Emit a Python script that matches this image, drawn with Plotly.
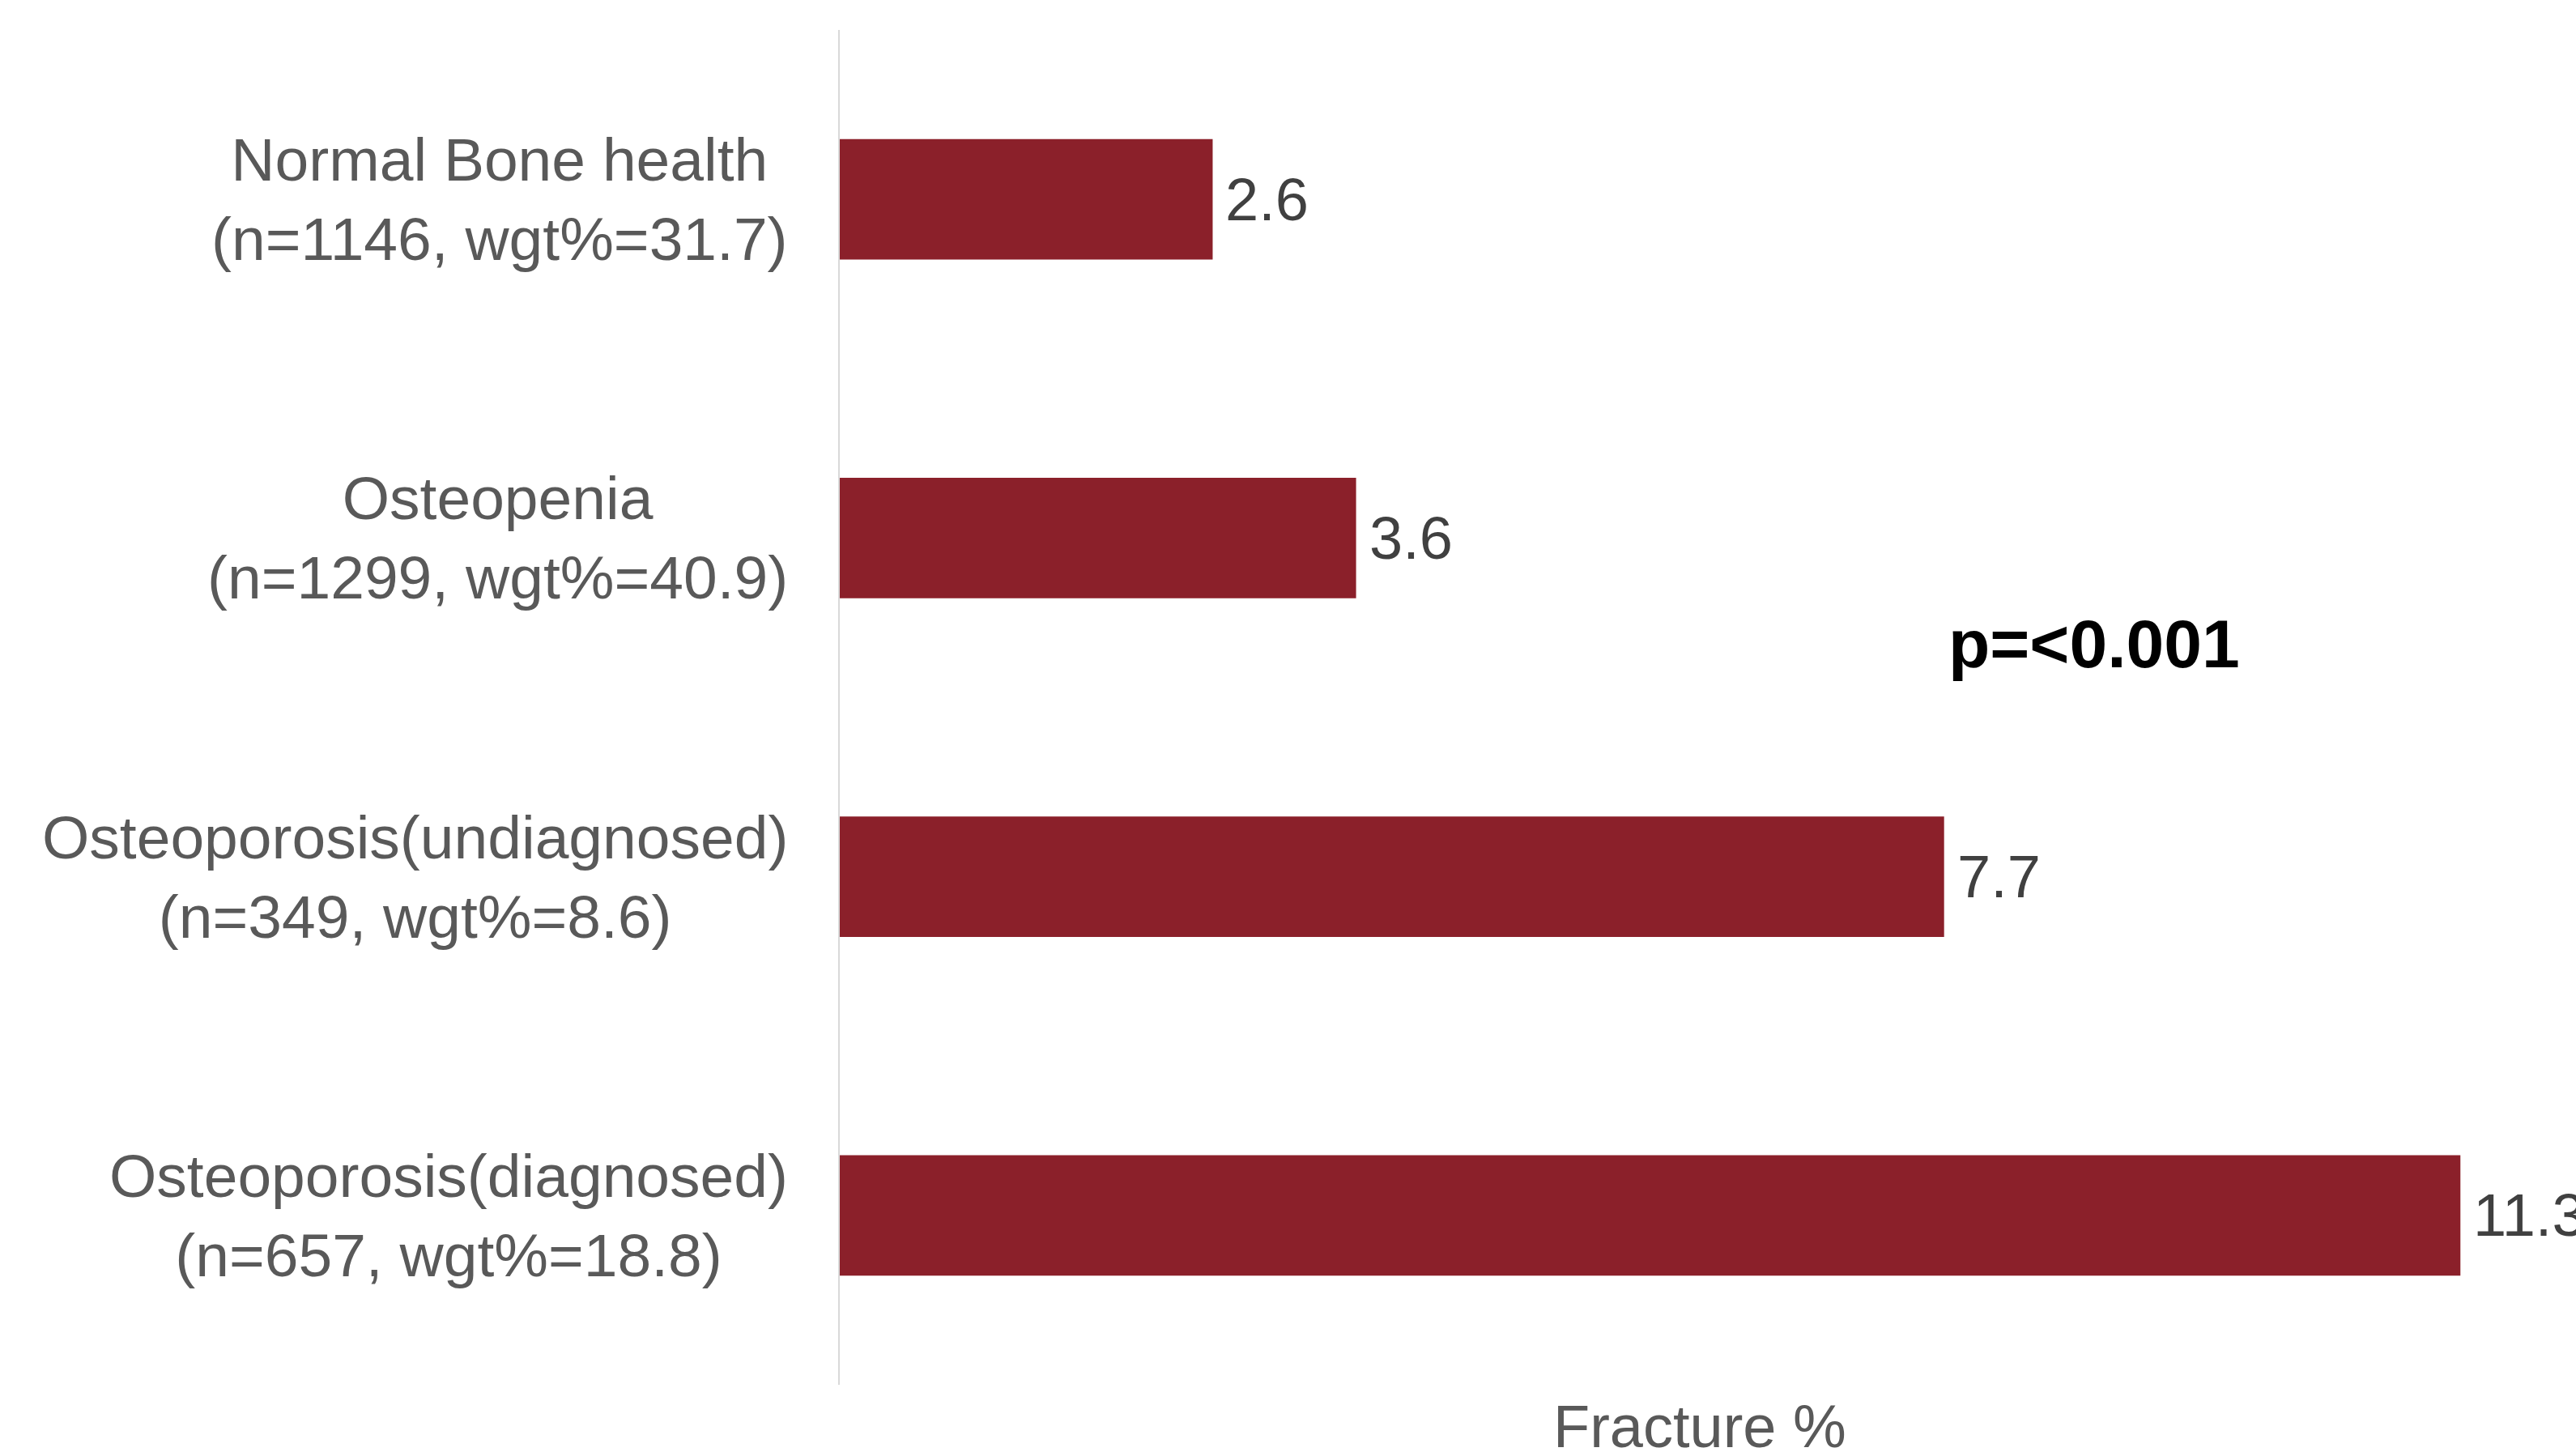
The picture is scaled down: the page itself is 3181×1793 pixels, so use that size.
import plotly.graph_objects as go

categories = [
    "Normal Bone health<br>(n=1146, wgt%=31.7)",
    "Osteopenia<br>(n=1299, wgt%=40.9)",
    "Osteoporosis(undiagnosed)<br>(n=349, wgt%=8.6)",
    "Osteoporosis(diagnosed)<br>(n=657, wgt%=18.8)",
]
fracture_pct = [2.6, 3.6, 7.7, 11.3]
value_labels = ["2.6", "3.6", "7.7", "11.3"]
p_text = "p=<0.001"
x_title = "Fracture %"

FONT = "Arial, 'Liberation Sans', sans-serif"
BAR_COLOR = "#8B202A"

fig = go.Figure()
fig.add_trace(go.Bar(
    x=fracture_pct,
    y=categories,
    orientation="h",
    marker=dict(color=BAR_COLOR, line=dict(width=0)),
    hoverinfo="skip",
))

annotations = []
for cat in categories:
    annotations.append(dict(
        x=0, xref="paper", y=cat, yref="y",
        text=cat, showarrow=False,
        xanchor="right", yanchor="middle", align="center",
        xshift=-62,
        font=dict(family=FONT, size=75, color="#595959"),
    ))
for cat, v, lab in zip(categories, fracture_pct, value_labels):
    annotations.append(dict(
        x=v, xref="x", y=cat, yref="y",
        text=lab, showarrow=False,
        xanchor="left", yanchor="middle",
        xshift=14,
        font=dict(family=FONT, size=74, color="#404040"),
    ))
annotations.append(dict(
    x=7.72, xref="x", y=0.547, yref="paper",
    text="<b>" + p_text + "</b>", showarrow=False,
    xanchor="left", yanchor="middle",
    font=dict(family=FONT, size=84, color="#000000"),
))
annotations.append(dict(
    x=0.4955, xref="paper", y=-0.0305, yref="paper",
    text=x_title, showarrow=False,
    xanchor="center", yanchor="middle",
    font=dict(family=FONT, size=74, color="#595959"),
))

fig.update_layout(
    width=3181, height=1793,
    margin=dict(l=1037, r=0, t=37, b=83, pad=0),
    paper_bgcolor="white", plot_bgcolor="white",
    bargap=0.644,
    showlegend=False,
    annotations=annotations,
    font=dict(family=FONT, color="#595959"),
    xaxis=dict(
        range=[0, 12.106],
        showgrid=False, zeroline=False, showline=False,
        showticklabels=False, ticks="",
    ),
    yaxis=dict(
        autorange="reversed",
        showgrid=False, zeroline=False,
        showline=True, linecolor="#d9d9d9", linewidth=2,
        showticklabels=False, ticks="",
    ),
)

fig.write_html("out.html")
